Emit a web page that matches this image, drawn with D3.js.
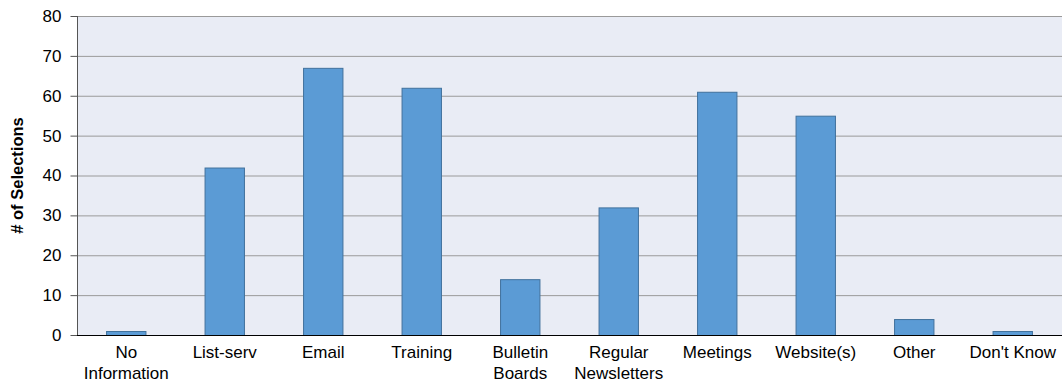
<!DOCTYPE html>
<html><head><meta charset="utf-8">
<script src="https://cdn.jsdelivr.net/npm/d3@7"></script>
<style>body{margin:0;background:#fff;}svg{display:block;font-family:"Liberation Sans",Arial,sans-serif;}</style>
</head><body><svg id="c" width="1062" height="385"></svg>
<script>
const categories = [["No","Information"],["List-serv"],["Email"],["Training"],["Bulletin","Boards"],["Regular","Newsletters"],["Meetings"],["Website(s)"],["Other"],["Don't Know"]];
const values = [1,42,67,62,14,32,61,55,4,1];
const yTicks = [0,10,20,30,40,50,60,70,80];
const yLabel = "# of Selections";

const svg = d3.select("#c");
const m = {l:77, r:0, t:16, b:50};
const W = 1062, H = 385;
const x = d3.scaleBand().domain(d3.range(categories.length)).range([m.l, W-m.r]).paddingInner(0.59).paddingOuter(0.295);
const y = d3.scaleLinear().domain([0,80]).range([335, 16]);

svg.append("rect").attr("x",m.l).attr("y",y(80)).attr("width",W-m.l).attr("height",y(0)-y(80)).attr("fill","#E9ECF5");
svg.append("g").selectAll("line").data(yTicks.filter(d=>d>0)).join("line")
  .attr("x1",m.l).attr("x2",W).attr("y1",d=>y(d)+0.5).attr("y2",d=>y(d)+0.5)
  .attr("stroke","#9a9a9a").attr("stroke-width",1);

svg.append("g").selectAll("rect").data(values).join("rect")
  .attr("x",(d,i)=>x(i)+0.5).attr("width",x.bandwidth()-1)
  .attr("y",d=>y(d)+0.5).attr("height",d=>y(0)-y(d))
  .attr("fill","#5B9BD5").attr("stroke","#41719C").attr("stroke-width",1);

const ya = svg.append("g").attr("transform",`translate(${m.l+0.5},0)`)
  .call(d3.axisLeft(y).tickValues(yTicks).tickSize(7).tickPadding(9).tickFormat(d3.format("d")));
ya.select(".domain").attr("stroke","#555").attr("d",`M0,${y(80)}V${y(0)}`);
ya.selectAll(".tick line").attr("stroke","#555");
ya.selectAll("text").attr("font-size",17).attr("fill","#000").attr("font-family","Liberation Sans, Arial, sans-serif");

svg.append("line").attr("x1",m.l).attr("x2",W).attr("y1",y(0)+0.5).attr("y2",y(0)+0.5).attr("stroke","#000").attr("stroke-width",1.2);

const xl = svg.append("g").selectAll("text").data(categories).join("text")
  .attr("text-anchor","middle").attr("font-size",17).attr("fill","#000")
  .attr("transform",(d,i)=>`translate(${x(i)+x.bandwidth()/2},358)`);
xl.selectAll("tspan").data(d=>d).join("tspan").attr("x",0).attr("dy",(d,j)=>j===0?0:21).text(d=>d);

svg.append("text").attr("transform",`translate(23,${(y(0)+y(80))/2}) rotate(-90)`)
  .attr("text-anchor","middle").attr("font-size",16.5).attr("font-weight","bold").text(yLabel);
</script></body></html>
